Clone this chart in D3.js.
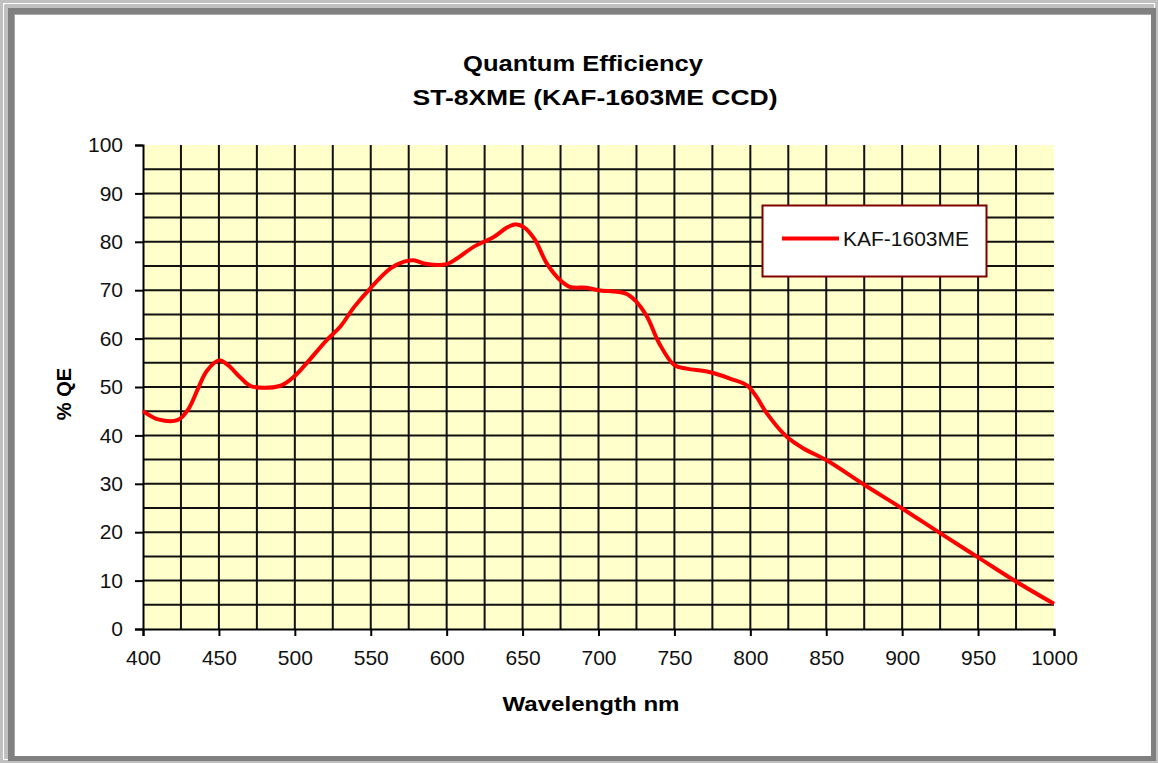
<!DOCTYPE html>
<html>
<head>
<meta charset="utf-8">
<script src="https://cdn.jsdelivr.net/npm/d3@7"></script>
<style>
  body { margin: 0; background: #fff; }
  svg { display: block; font-family: "Liberation Sans", Arial, sans-serif; }
</style>
</head>
<body>
<svg width="1158" height="763"></svg>
<script>
// readings
var wavelength = [400, 410, 423, 430, 436, 442, 450, 456, 464, 471, 490, 500, 508, 521, 530, 539, 550, 563, 572, 578, 587, 600, 607, 618, 631, 640, 646, 651, 658, 666, 675, 681, 692, 700, 718, 725, 732, 740, 750, 758, 773, 787, 798, 804, 811, 824, 835, 850, 875, 900, 925, 950, 975, 1000];
var qe = [45, 43.3, 43.2, 45.5, 49.5, 53.3, 55.5, 54.5, 52, 50.2, 50.2, 52.3, 55, 59.7, 62.5, 66.5, 70.5, 74.5, 75.9, 76.2, 75.4, 75.4, 76.6, 79, 81, 83, 83.6, 83, 80.5, 75.5, 72, 70.7, 70.5, 70, 69.3, 67.6, 64.5, 59, 54.5, 53.8, 53.1, 51.7, 50.3, 48, 44.5, 39.7, 37.3, 34.9, 29.8, 24.9, 19.8, 14.8, 9.8, 5.2];
var xTicks = [400, 450, 500, 550, 600, 650, 700, 750, 800, 850, 900, 950, 1000];
var yTicks = [0, 10, 20, 30, 40, 50, 60, 70, 80, 90, 100];
var seriesName = "KAF-1603ME";
var titleLines = ["Quantum Efficiency", "ST-8XME (KAF-1603ME CCD)"];

var svg = d3.select("svg");

// window-like frame
svg.append("rect").attr("x", 0).attr("y", 0).attr("width", 1158).attr("height", 763).attr("fill", "#c0c0c0");
svg.append("rect").attr("x", 3.5).attr("y", 3.5).attr("width", 1151).attr("height", 756)
  .attr("fill", "none").attr("stroke", "#ffffff").attr("stroke-width", 1);
svg.append("rect").attr("x", 8).attr("y", 8).attr("width", 1148).attr("height", 753).attr("fill", "#808080");
svg.append("rect").attr("x", 14).attr("y", 14).attr("width", 1137).attr("height", 742).attr("fill", "#a8a8a8");
svg.append("rect").attr("x", 15).attr("y", 15).attr("width", 1136).attr("height", 741).attr("fill", "#ffffff");

var x = d3.scaleLinear().domain([400, 1000]).range([143, 1054]);
var y = d3.scaleLinear().domain([0, 100]).range([629, 145]);

// plot area
svg.append("rect")
  .attr("x", x(400)).attr("y", y(100))
  .attr("width", x(1000) - x(400)).attr("height", y(0) - y(100))
  .attr("fill", "#ffffcc");

// grid
svg.append("g").selectAll("line").data(d3.range(425, 1000, 25)).enter()
  .append("line")
  .attr("x1", function (d) { return x(d); }).attr("x2", function (d) { return x(d); })
  .attr("y1", y(100)).attr("y2", y(0))
  .attr("stroke", "#111").attr("stroke-width", 2);

svg.append("g").selectAll("line").data(d3.range(5, 100, 5)).enter()
  .append("line")
  .attr("x1", x(400)).attr("x2", x(1000))
  .attr("y1", function (d) { return y(d); }).attr("y2", function (d) { return y(d); })
  .attr("stroke", "#111").attr("stroke-width", 2);

// axes
var xAxis = svg.append("g")
  .attr("transform", "translate(0," + y(0) + ")")
  .call(d3.axisBottom(x).tickValues(xTicks).tickSize(7).tickPadding(14).tickFormat(d3.format("d")));
var yAxis = svg.append("g")
  .attr("transform", "translate(" + x(400) + ",0)")
  .call(d3.axisLeft(y).tickValues(yTicks).tickSize(8).tickPadding(12).tickFormat(d3.format("d")));

[xAxis, yAxis].forEach(function (g) {
  g.select(".domain").attr("stroke", "#000").attr("stroke-width", 2);
  g.selectAll(".tick line").attr("stroke", "#000").attr("stroke-width", 2);
  g.selectAll(".tick text")
    .attr("fill", "#111")
    .style("font-size", "21px")
    .style("font-family", "Liberation Sans, Arial, sans-serif");
});

// curve
var line = d3.line()
  .x(function (d) { return x(d[0]); })
  .y(function (d) { return y(d[1]); })
  .curve(d3.curveCatmullRom.alpha(0.5));

svg.append("path")
  .datum(d3.zip(wavelength, qe))
  .attr("d", line)
  .attr("fill", "none")
  .attr("stroke", "#ff0000")
  .attr("stroke-width", 4)
  .attr("stroke-linejoin", "round");

// legend
svg.append("rect")
  .attr("x", 762.5).attr("y", 205.5).attr("width", 224).attr("height", 71)
  .attr("fill", "#fff").attr("stroke", "#800000").attr("stroke-width", 2);
svg.append("line")
  .attr("x1", 782).attr("x2", 839).attr("y1", 238.5).attr("y2", 238.5)
  .attr("stroke", "#ff0000").attr("stroke-width", 4);
svg.append("text")
  .text(seriesName)
  .attr("x", 843).attr("y", 246)
  .attr("fill", "#111")
  .style("font-size", "21px");

// titles
svg.append("text")
  .text(titleLines[0])
  .attr("x", 583).attr("y", 71)
  .attr("text-anchor", "middle")
  .attr("textLength", 240).attr("lengthAdjust", "spacingAndGlyphs")
  .style("font-size", "22px").style("font-weight", "bold");
svg.append("text")
  .text(titleLines[1])
  .attr("x", 595).attr("y", 105)
  .attr("text-anchor", "middle")
  .attr("textLength", 365).attr("lengthAdjust", "spacingAndGlyphs")
  .style("font-size", "22px").style("font-weight", "bold");

svg.append("text")
  .text("Wavelength nm")
  .attr("x", 591).attr("y", 711)
  .attr("text-anchor", "middle")
  .attr("textLength", 177).attr("lengthAdjust", "spacingAndGlyphs")
  .style("font-size", "20px").style("font-weight", "bold");

svg.append("text")
  .text("% QE")
  .attr("transform", "translate(71,394) rotate(-90)")
  .attr("text-anchor", "middle")
  .style("font-size", "20px").style("font-weight", "bold");
</script>
</body>
</html>
